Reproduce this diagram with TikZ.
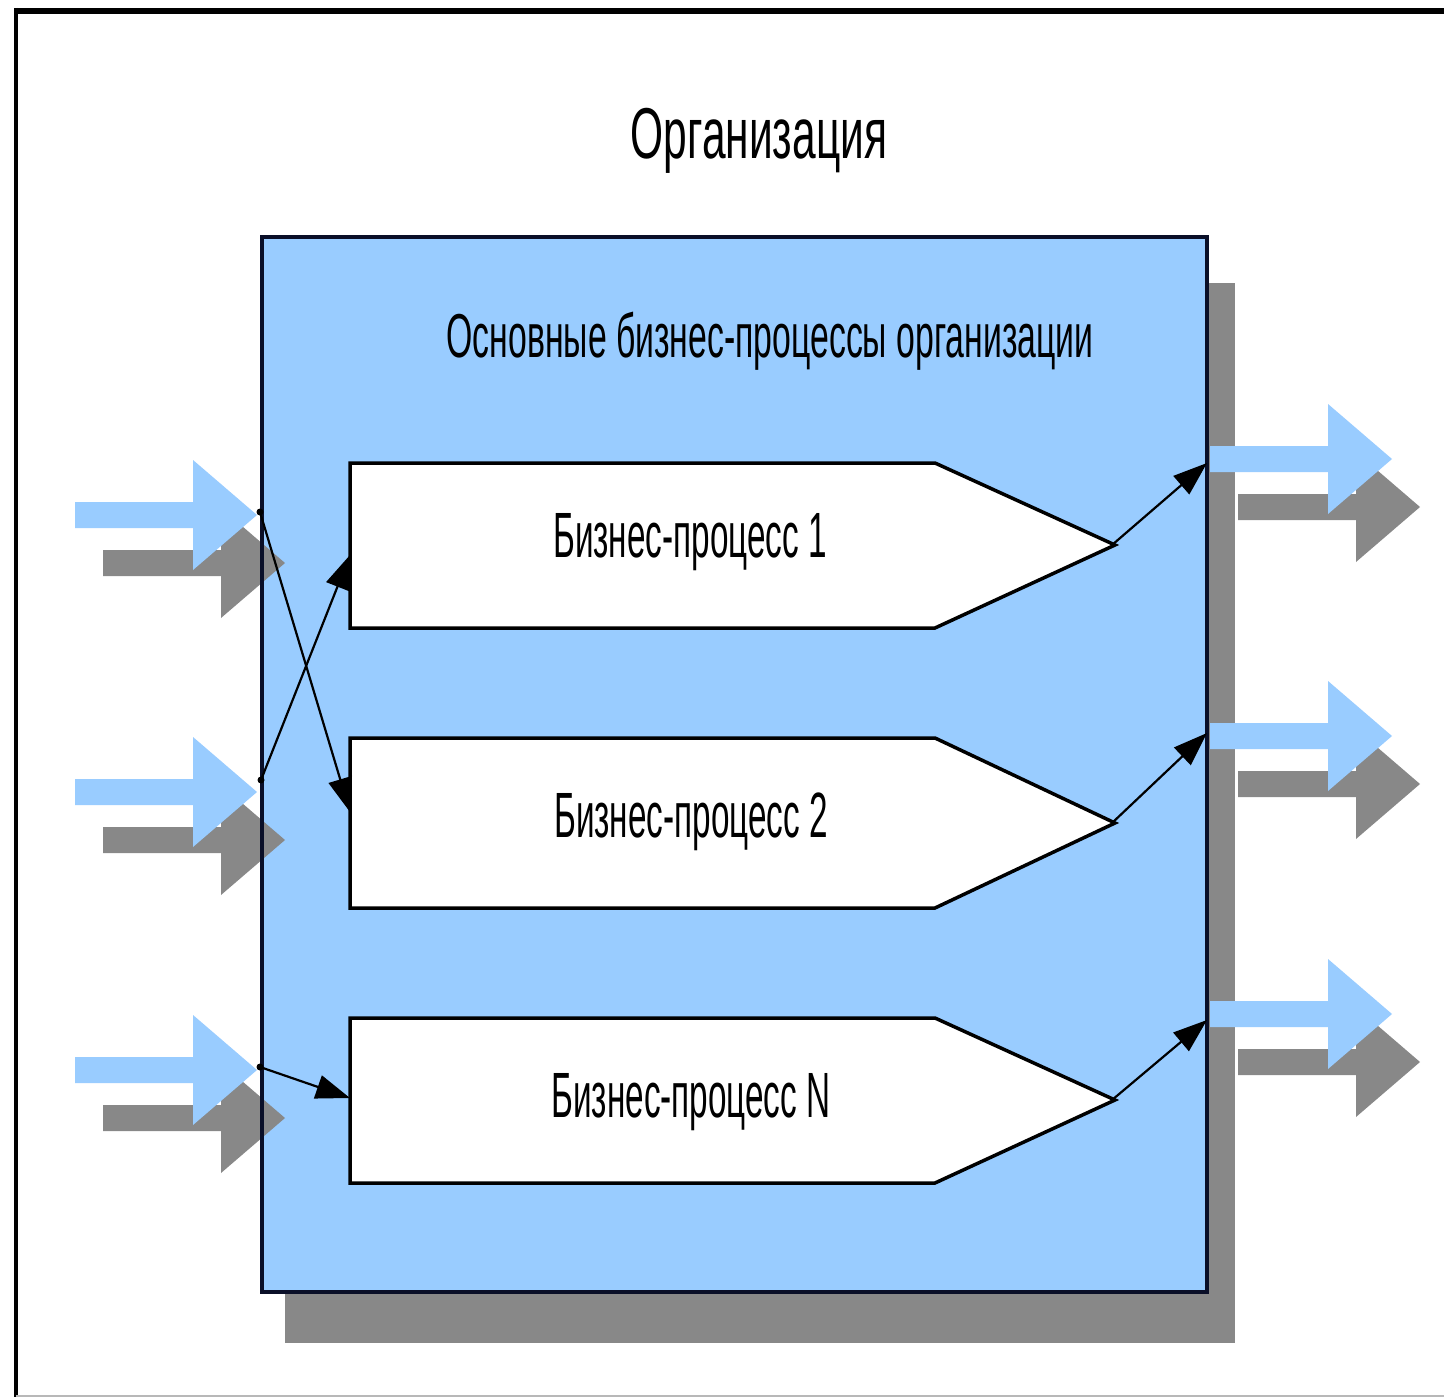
\documentclass[tikz,border=0pt]{standalone}
\usepackage{fontspec}
\setmainfont[FakeStretch=0.52]{Liberation Sans}
\newfontfamily\titlefont[FakeStretch=0.59]{Liberation Sans}
\newfontfamily\corefont[FakeStretch=0.545]{Liberation Sans}
\usetikzlibrary{arrows.meta}

\definecolor{orgblue}{HTML}{99CCFF}
\definecolor{shadowgray}{HTML}{888888}
\definecolor{edgenavy}{HTML}{0A0F28}

\tikzset{
  % wide flow arrow (shaft + head) with its grey copy behind it
  flowarrow/.pic={
    \fill[shadowgray,shift={(28,48)}] (0,-13) -- (118,-13) -- (118,-55) -- (182,0)
      -- (118,55) -- (118,13) -- (0,13) -- cycle;
    \fill[orgblue] (0,-13) -- (118,-13) -- (118,-55) -- (182,0)
      -- (118,55) -- (118,13) -- (0,13) -- cycle;
  },
  procbox/.style={draw=black,fill=white,line width=3.5pt,line join=miter},
  conn/.style={draw=black,line width=2.2pt,-{Triangle[length=34pt,width=24pt]}},
  label/.style={inner sep=0pt,anchor=base,text=black},
  tap/.style={fill=black}
}

\begin{document}
\begin{tikzpicture}[x=1pt,y=-1pt]
\useasboundingbox (0,0) rectangle (1444,1397);
\fill[white] (0,0) rectangle (1444,1397);

% outer frame
\draw[line width=6pt] (14,11) -- (1444,11);
\draw[line width=4pt] (16,8) -- (16,1397);
\draw[line width=1.5pt,shadowgray!60] (16,1396) -- (1444,1396);

\node[label,font=\titlefont\fontsize{72}{80}\selectfont] (org) at (759,158) {Организация};

% organisation box with its shadow
\fill[shadowgray] (285,283) rectangle (1235,1343);
\fill[orgblue] (262,237) rectangle (1207,1292);

% inputs and outputs
\pic at (75,515) {flowarrow};
\pic at (75,792) {flowarrow};
\pic at (75,1070) {flowarrow};
\pic at (1210,459) {flowarrow};
\pic at (1210,736) {flowarrow};
\pic at (1210,1014) {flowarrow};

\draw[edgenavy,line width=4pt] (262,237) rectangle (1207,1292);

\node[label,font=\corefont\fontsize{62}{70}\selectfont] (core) at (770,357) {Основные бизнес-процессы организации};

% business processes
\draw[procbox] (350,463) -- (935,463) -- (1115,545) -- (935,628) -- (350,628) -- cycle;
\draw[procbox] (350,738) -- (935,738) -- (1115,823) -- (935,908) -- (350,908) -- cycle;
\draw[procbox] (350,1018) -- (935,1018) -- (1115,1100) -- (935,1183) -- (350,1183) -- cycle;

\node[label,font=\fontsize{64}{70}\selectfont] (bp1) at (690,557) {Бизнес-процесс 1};
\node[label,font=\fontsize{64}{70}\selectfont] (bp2) at (691,837) {Бизнес-процесс 2};
\node[label,font=\fontsize{64}{70}\selectfont] (bpN) at (691,1117) {Бизнес-процесс N};

% connection points
\coordinate (in1) at (260,512);
\coordinate (in2) at (261,780);
\coordinate (in3) at (260,1067);
\coordinate (bp1in) at (350,555);
\coordinate (bp2in) at (350,812);
\coordinate (bpNin) at (350,1098);
\coordinate (bp1tip) at (1112,545);
\coordinate (bp2tip) at (1112,823);
\coordinate (bpNtip) at (1112,1100);
\coordinate (out1) at (1207,463);
\coordinate (out2) at (1207,733);
\coordinate (out3) at (1207,1020);

\fill[tap] (in1) circle (3.5pt);
\fill[tap] (in2) circle (3.5pt);
\fill[tap] (in3) circle (3.5pt);

\draw[conn] (in1) -- (bp2in);
\draw[conn] (in2) -- (bp1in);
\draw[conn] (in3) -- (bpNin);
\draw[conn] (bp1tip) -- (out1);
\draw[conn] (bp2tip) -- (out2);
\draw[conn] (bpNtip) -- (out3);
\end{tikzpicture}
\end{document}
